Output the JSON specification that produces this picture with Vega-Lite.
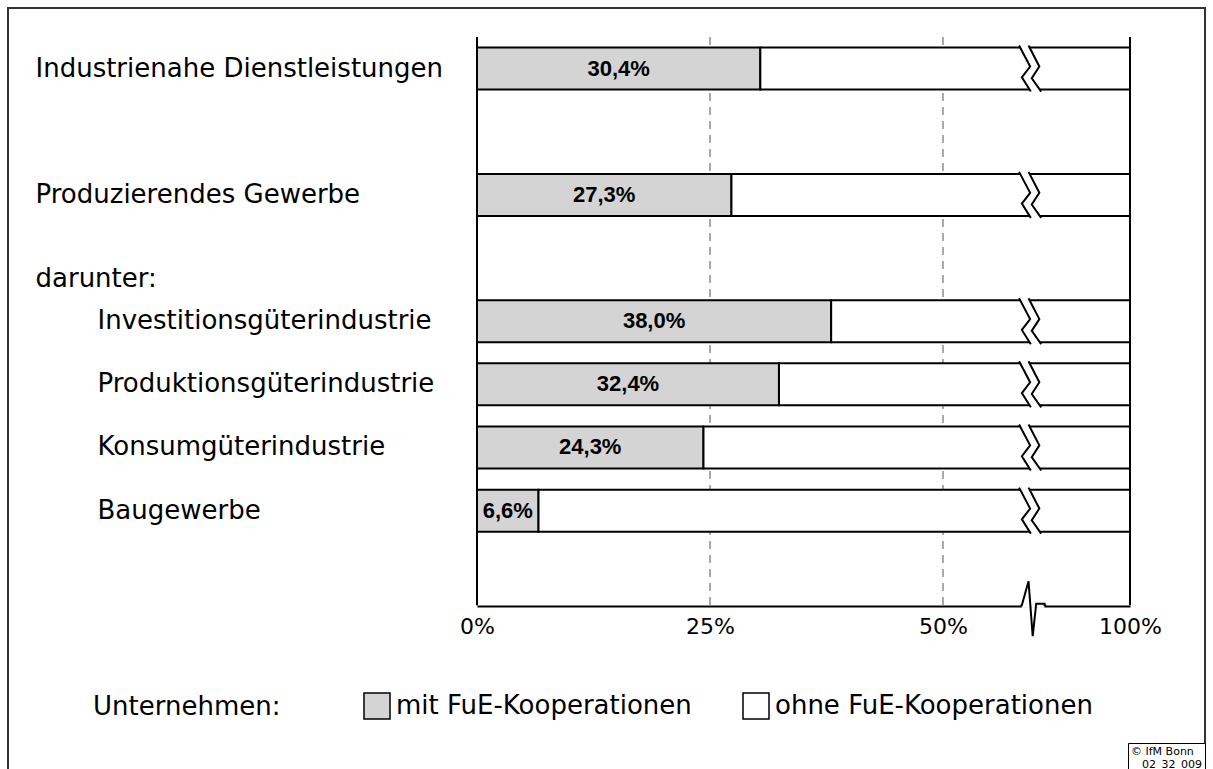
{
  "$schema": "https://vega.github.io/schema/vega-lite/v6.json",
  "width": 1197,
  "height": 765,
  "autosize": {"type": "none"},
  "padding": {"left": 8, "top": 8, "right": 8, "bottom": 0},
  "background": "white",
  "config": {
    "view": {"stroke": "#333333", "strokeWidth": 2},
    "font": "DejaVu Sans",
    "locale": {"number": {"decimal": ",", "thousands": ".", "grouping": [3], "currency": ["", "%"]}}
  },
  "data": {
    "values": [
      {"Kategorie": "Industrienahe Dienstleistungen", "Unternehmen": "mit FuE-Kooperationen", "Anteil": 30.4},
      {"Kategorie": "Industrienahe Dienstleistungen", "Unternehmen": "ohne FuE-Kooperationen", "Anteil": 69.6},
      {"Kategorie": "Produzierendes Gewerbe", "Unternehmen": "mit FuE-Kooperationen", "Anteil": 27.3},
      {"Kategorie": "Produzierendes Gewerbe", "Unternehmen": "ohne FuE-Kooperationen", "Anteil": 72.7},
      {"Kategorie": "Investitionsgüterindustrie", "Unternehmen": "mit FuE-Kooperationen", "Anteil": 38.0},
      {"Kategorie": "Investitionsgüterindustrie", "Unternehmen": "ohne FuE-Kooperationen", "Anteil": 62.0},
      {"Kategorie": "Produktionsgüterindustrie", "Unternehmen": "mit FuE-Kooperationen", "Anteil": 32.4},
      {"Kategorie": "Produktionsgüterindustrie", "Unternehmen": "ohne FuE-Kooperationen", "Anteil": 67.6},
      {"Kategorie": "Konsumgüterindustrie", "Unternehmen": "mit FuE-Kooperationen", "Anteil": 24.3},
      {"Kategorie": "Konsumgüterindustrie", "Unternehmen": "ohne FuE-Kooperationen", "Anteil": 75.7},
      {"Kategorie": "Baugewerbe", "Unternehmen": "mit FuE-Kooperationen", "Anteil": 6.6},
      {"Kategorie": "Baugewerbe", "Unternehmen": "ohne FuE-Kooperationen", "Anteil": 93.4}
    ]
  },
  "layer": [
    {
      "data": {"values": [{"Marke": 0}, {"Marke": 25}, {"Marke": 50}, {"Marke": 100}]},
      "mark": {"type": "rule"},
      "encoding": {
        "x": {"field": "Marke", "type": "quantitative",
              "scale": {"domain": [0, 50, 100], "range": [469, 935, 1122], "zero": false, "nice": false}},
        "y": {"datum": "_0", "type": "nominal", "bandPosition": 0},
        "y2": {"datum": "_26", "bandPosition": 1},
        "color": {"condition": {"test": "datum.Marke === 0 || datum.Marke === 100", "value": "black"}, "value": "#555555"},
        "strokeWidth": {"condition": {"test": "datum.Marke === 0 || datum.Marke === 100", "value": 2}, "value": 1},
        "strokeDash": {"condition": {"test": "datum.Marke === 0 || datum.Marke === 100", "value": [1, 0]}, "value": [8, 6]}
      }
    },
    {
      "mark": {"type": "bar", "height": 42, "stroke": "black", "strokeWidth": 2},
      "encoding": {
        "y": {
          "field": "Kategorie", "type": "nominal",
          "scale": {"domain": ["_0","Industrienahe Dienstleistungen","_2","_3","_4","_5","_6","Produzierendes Gewerbe","_8","_9","_10","darunter:","_12","Investitionsgüterindustrie","_14","_15","Produktionsgüterindustrie","_17","_18","Konsumgüterindustrie","_20","_21","Baugewerbe","_23","_24","_25","_26"], "range": [29, 597.35], "paddingInner": 0, "paddingOuter": 0},
          "axis": {
            "title": null, "domain": false, "ticks": false, "tickSize": 0, "grid": false,
            "labelAlign": "left", "labelBaseline": "middle",
            "labelPadding": {"condition": {"test": "datum.value === 'Investitionsgüterindustrie' || datum.value === 'Produktionsgüterindustrie' || datum.value === 'Konsumgüterindustrie' || datum.value === 'Baugewerbe'", "value": -89}, "value": -27},
            "labelFont": "DejaVu Sans", "labelFontSize": 26, "labelColor": "black", "labelLimit": 600,
            "labelOverlap": false, "zindex": 0,
            "labelExpr": "indexof(datum.label, '_') === 0 ? '' : datum.label"
          }
        },
        "x": {
          "field": "Anteil", "type": "quantitative", "stack": "zero",
          "scale": {"domain": [0, 50, 100], "range": [469, 935, 1122], "zero": false, "nice": false},
          "axis": {
            "title": null, "values": [0, 25, 50, 100], "offset": -167,
            "domain": true, "domainColor": "black", "domainWidth": 2,
            "ticks": false, "tickSize": 0, "labelPadding": 10,
            "labelFont": "DejaVu Sans", "labelFontSize": 22, "labelColor": "black",
            "labelExpr": "datum.value + '%'", "labelOverlap": false, "labelFlush": false,
            "grid": false, "zindex": 0
          }
        },
        "color": {
          "field": "Unternehmen", "type": "nominal",
          "scale": {"domain": ["mit FuE-Kooperationen", "ohne FuE-Kooperationen"], "range": ["#d4d4d4", "#ffffff"]},
          "legend": {
            "title": "Unternehmen:", "orient": "none", "legendX": 85, "legendY": 684,
            "direction": "horizontal", "titleOrient": "left", "titleBaseline": "middle", "titleLimit": 500,
            "titleFont": "DejaVu Sans", "titleFontSize": 26, "titleFontWeight": "normal", "titleColor": "black",
            "titlePadding": 82, "labelFont": "DejaVu Sans", "labelFontSize": 26, "labelColor": "black",
            "labelLimit": 600, "labelOffset": 5, "symbolType": "square", "symbolSize": 676,
            "symbolStrokeColor": "black", "symbolStrokeWidth": 1.5, "columnPadding": 48, "padding": 0
          }
        }
      }
    },
    {
      "transform": [{"filter": "datum.Unternehmen === 'mit FuE-Kooperationen'"}],
      "mark": {"type": "text", "font": "Liberation Sans", "fontSize": 22, "fontWeight": "bold", "fill": "black", "align": "center", "baseline": "middle"},
      "encoding": {
        "y": {"field": "Kategorie", "type": "nominal"},
        "x": {"field": "Anteil", "type": "quantitative", "stack": "zero", "bandPosition": 0.5,
              "scale": {"domain": [0, 50, 100], "range": [469, 935, 1122], "zero": false, "nice": false}},
        "detail": {"field": "Unternehmen"},
        "text": {"field": "Anteil", "type": "quantitative", "format": "$.1f"}
      }
    },
    {
      "transform": [{"filter": "datum.Unternehmen === 'ohne FuE-Kooperationen'"}],
      "mark": {"type": "point", "shape": "M-0.48,-1L0,-0.09L-0.36,0.38L0.03,1L0.48,1L0.07,0.42L0.4,-0.09L-0.07,-1Z", "size": 2116, "filled": true, "fill": "white", "strokeWidth": 0, "opacity": 1},
      "encoding": {
        "y": {"field": "Kategorie", "type": "nominal"},
        "x": {"datum": 73.3, "type": "quantitative",
              "scale": {"domain": [0, 50, 100], "range": [469, 935, 1122], "zero": false, "nice": false}}
      }
    },
    {
      "transform": [{"filter": "datum.Unternehmen === 'ohne FuE-Kooperationen'"}],
      "mark": {"type": "point", "shape": "M-0.48,-1L0,-0.09L-0.36,0.38L0.03,1M-0.07,-1L0.4,-0.09L0.07,0.42L0.48,1", "size": 2116, "filled": false, "stroke": "black", "strokeWidth": 2, "opacity": 1},
      "encoding": {
        "y": {"field": "Kategorie", "type": "nominal"},
        "x": {"datum": 73.3, "type": "quantitative",
              "scale": {"domain": [0, 50, 100], "range": [469, 935, 1122], "zero": false, "nice": false}}
      }
    },
    {
      "data": {"values": [{"Element": "Achsenbruch"}]},
      "mark": {"type": "point", "shape": "M-0.26,-0.08L0.45,-0.08L0.45,0.08L-0.26,0.08Z", "size": 4096, "filled": true, "fill": "white", "strokeWidth": 0, "opacity": 1},
      "encoding": {
        "y": {"datum": "_26", "type": "nominal", "bandPosition": 1},
        "x": {"datum": 73.3, "type": "quantitative",
              "scale": {"domain": [0, 50, 100], "range": [469, 935, 1122], "zero": false, "nice": false}}
      }
    },
    {
      "data": {"values": [{"Element": "Achsenbruch"}]},
      "mark": {"type": "point", "shape": "M-0.3,0L-0.26,0L-0.05,-0.75L0.08,0.96L0.19,-0.05L0.45,-0.05L0.45,0L0.5,0", "size": 4096, "filled": false, "stroke": "black", "strokeWidth": 2, "opacity": 1},
      "encoding": {
        "y": {"datum": "_26", "type": "nominal", "bandPosition": 1},
        "x": {"datum": 73.3, "type": "quantitative",
              "scale": {"domain": [0, 50, 100], "range": [469, 935, 1122], "zero": false, "nice": false}}
      }
    },
    {
      "data": {"values": [{"Code": "02_32_009"}]},
      "mark": {"type": "point", "opacity": 0},
      "encoding": {
        "shape": {
          "field": "Code", "type": "nominal",
          "legend": {
            "title": "© IfM Bonn", "orient": "bottom-right", "offset": 0, "padding": 3,
            "strokeColor": "black", "fillColor": "white",
            "titleFont": "DejaVu Sans", "titleFontSize": 11, "titleFontWeight": "normal", "titleColor": "black", "titlePadding": 2,
            "labelFont": "DejaVu Sans", "labelFontSize": 11, "labelColor": "black", "labelOffset": 0,
            "symbolSize": 0, "symbolOpacity": 0, "symbolStrokeWidth": 0
          }
        }
      }
    }
  ]
}
